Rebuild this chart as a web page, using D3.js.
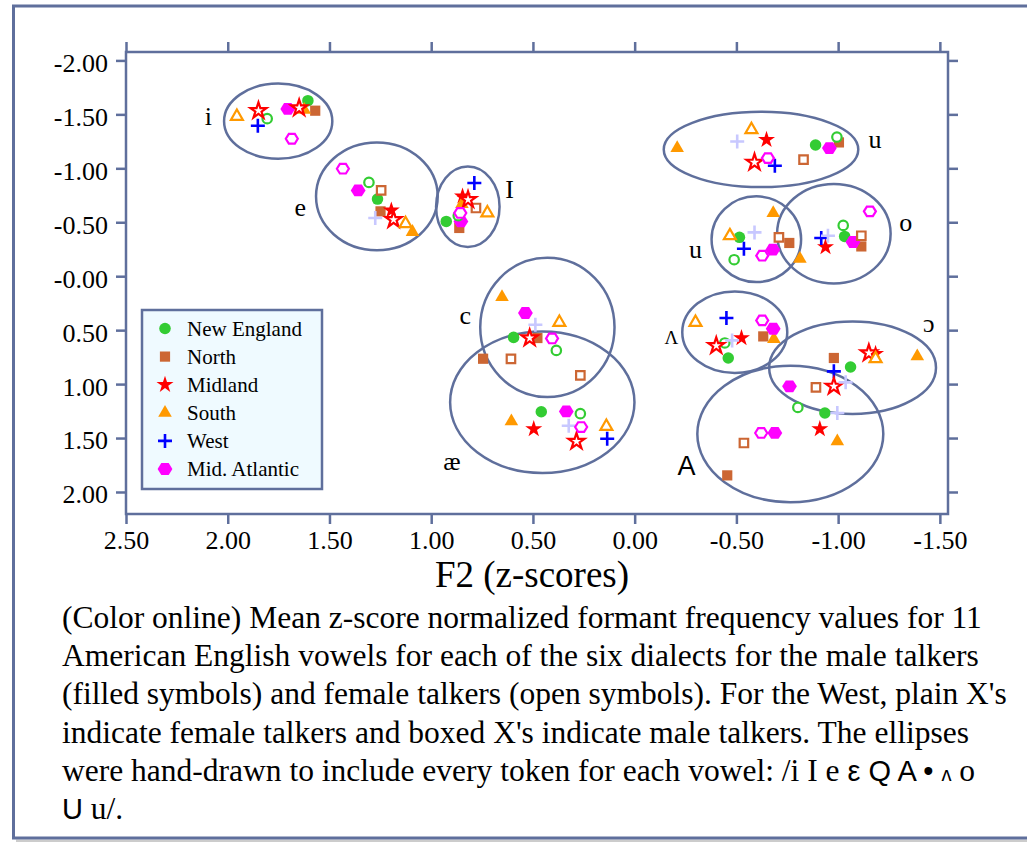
<!DOCTYPE html>
<html>
<head>
<meta charset="utf-8">
<script src="https://cdn.jsdelivr.net/npm/d3@7"></script>
<style>
    body { margin: 0; background: #ffffff; }
    svg text { font-family: "Liberation Serif", "DejaVu Serif", "Times New Roman", serif; fill: #000; }
</style>
</head>
<body>
<svg id="chart" width="1027" height="842"></svg>
<script>
////////////////////////////////////////////////////////
// data: [vowel, F2 z-score, F1 z-score]
const dialects = ['New England', 'North', 'Midland', 'South', 'West', 'Mid. Atlantic'];

const newEnglandMale = [['i', 1.606, -1.627], ['e', 1.264, -0.715], ['ɪ', 0.926, -0.508], ['u', -0.889, -1.216], ['ʊ', -0.515, -0.360], ['o', -1.032, -0.369], ['ɛ', 0.595, 0.567], ['æ', 0.459, 1.256], ['ʌ', -0.460, 0.758], ['ɔ', -1.061, 0.842], ['ɑ', -0.935, 1.268]];
const newEnglandFemale = [['i', 1.806, -1.460], ['e', 1.306, -0.869], ['ɪ', 0.867, -0.561], ['u', -0.994, -1.290], ['ʊ', -0.489, -0.153], ['o', -1.025, -0.471], ['ɛ', 0.385, 0.688], ['æ', 0.267, 1.274], ['ʌ', -0.443, 0.619], ['ɑ', -0.802, 1.216]];
const northMale = [['i', 1.570, -1.534], ['e', 1.249, -0.601], ['ɪ', 0.862, -0.447], ['u', -1.004, -1.240], ['ʊ', -0.760, -0.308], ['o', -1.114, -0.276], ['ɛ', 0.478, 0.573], ['æ', 0.745, 0.765], ['ʌ', -0.632, 0.558], ['ɔ', -0.979, 0.758], ['ɑ', -0.455, 1.846]];
const northFemale = [['e', 1.246, -0.795], ['ɪ', 0.780, -0.632], ['u', -0.830, -1.080], ['ʊ', -0.709, -0.360], ['o', -1.114, -0.375], ['ɛ', 0.608, 0.767], ['æ', 0.267, 0.919], ['ɔ', -0.891, 1.031], ['ɑ', -0.537, 1.546]];
const midlandMale = [['e', 1.196, -0.610], ['ɪ', 0.846, -0.740], ['u', -0.648, -1.265], ['o', -0.938, -0.271], ['æ', 0.496, 1.416], ['ʌ', -0.525, 0.573], ['ɔ', -1.184, 0.718], ['ɑ', -0.910, 1.416]];
const midlandFemale = [['i', 1.849, -1.534], ['i', 1.649, -1.559], ['e', 1.185, -0.524], ['ɪ', 0.819, -0.709], ['u', -0.589, -1.055], ['ɛ', 0.516, 0.573], ['æ', 0.286, 1.531], ['ʌ', -0.401, 0.644], ['ɔ', -1.151, 0.712], ['ɑ', -0.979, 1.021]];
const southMale = [['i', 1.624, -1.543], ['e', 1.092, -0.410], ['ɪ', 0.849, -0.669], ['u', -0.209, -1.188], ['ʊ', -0.681, -0.586], ['o', -0.812, -0.162], ['ɛ', 0.652, 0.193], ['æ', 0.606, 1.346], ['ʌ', -0.684, 0.582], ['ɔ', -1.389, 0.743], ['ɑ', -0.996, 1.531]];
const southFemale = [['i', 1.955, -1.481], ['e', 1.126, -0.487], ['ɪ', 0.724, -0.586], ['u', -0.574, -1.358], ['ʊ', -0.468, -0.375], ['ɛ', 0.370, 0.428], ['æ', 0.139, 1.392], ['ʌ', -0.299, 0.428], ['ɔ', -1.184, 0.765]];
const westMale = [['i', 1.852, -1.395], ['ɪ', 0.788, -0.864], ['u', -0.689, -1.024], ['ʊ', -0.537, -0.255], ['o', -0.917, -0.354], ['æ', 0.135, 1.506], ['ʌ', -0.451, 0.387], ['ɔ', -0.979, 0.882]];
const westFemale = [['e', 1.275, -0.539], ['u', -0.504, -1.249], ['ʊ', -0.589, -0.406], ['o', -0.950, -0.375], ['ɛ', 0.488, 0.450], ['æ', 0.324, 1.386], ['ʌ', -0.479, 0.595], ['ɔ', -1.037, 0.984], ['ɑ', -0.996, 1.268]];
const midAtlanticMale = [['i', 1.705, -1.550], ['e', 1.359, -0.795], ['ɪ', 0.854, -0.508], ['u', -0.957, -1.188], ['ʊ', -0.679, -0.246], ['o', -1.073, -0.317], ['ɛ', 0.537, 0.341], ['æ', 0.336, 1.253], ['ʌ', -0.681, 0.487], ['ɔ', -0.761, 1.021], ['ɑ', -0.689, 1.453]];
const midAtlanticFemale = [['i', 1.685, -1.274], ['e', 1.434, -0.996], ['ɪ', 0.857, -0.586], ['u', -0.655, -1.095], ['ʊ', -0.627, -0.190], ['o', -1.156, -0.601], ['ɛ', 0.406, 0.577], ['æ', 0.263, 1.398], ['ʌ', -0.627, 0.410], ['ɑ', -0.622, 1.453]];

const maleData = [newEnglandMale, northMale, midlandMale, southMale, westMale, midAtlanticMale];
const femaleData = [newEnglandFemale, northFemale, midlandFemale, southFemale, westFemale, midAtlanticFemale];

// hand-drawn vowel ellipses (z-score units)
const ellipseVowels = ['i', 'e', 'ɪ', 'u', 'ʊ', 'o', 'ɛ', 'æ', 'ʌ', 'ɔ', 'ɑ'];
const ellipseF2 = [1.752, 1.267, 0.820, -0.621, -0.598, -0.979, 0.429, 0.454, -0.492, -1.071, -0.765];
const ellipseF1 = [-1.437, -0.740, -0.644, -1.175, -0.343, -0.394, 0.474, 1.168, 0.519, 0.848, 1.462];
const ellipseRx = [0.266, 0.299, 0.156, 0.478, 0.220, 0.279, 0.330, 0.453, 0.258, 0.410, 0.457];
const ellipseRy = [0.348, 0.500, 0.373, 0.349, 0.397, 0.461, 0.646, 0.656, 0.378, 0.429, 0.632];

// vowel labels as printed
const labelText = ['i', 'e', 'I', 'u', 'u', 'o', 'c', 'æ', 'Λ', 'ɔ', 'A'];
const labelF2 = [2.095, 1.644, 0.615, -1.181, -0.299, -1.332, 0.833, 0.898, -0.181, -1.446, -0.255];
const labelF1 = [-1.481, -0.614, -0.811, -1.249, -0.230, -0.477, 0.387, 1.738, 0.573, 0.459, 1.754];

const xTicks = [2.5, 2, 1.5, 1, 0.5, 0, -0.5, -1, -1.5];
const xTickLabels = ['2.50', '2.00', '1.50', '1.00', '0.50', '0.00', '-0.50', '-1.00', '-1.50'];
const yTicks = [-2, -1.5, -1, -0.5, 0, 0.5, 1, 1.5, 2];
const yTickLabels = ['-2.00', '-1.50', '-1.00', '-0.50', '-0.00', '0.50', '1.00', '1.50', '2.00'];

const captionLines = [
    '(Color online) Mean z-score normalized formant frequency values for 11',
    'American English vowels for each of the six dialects for the male talkers',
    '(filled symbols) and female talkers (open symbols). For the West, plain X\'s',
    'indicate female talkers and boxed X\'s indicate male talkers. The ellipses'
];

////////////////////////////////////////////////////////
const frameColor = '#5f6f9c';
const colors = ['#33cc33', '#cc6633', '#ff0000', '#ff9900', '#0000ff', '#ff00ff'];
const westFemaleColor = '#c8c8ff';
const shapes = ['circle', 'square', 'star', 'triangle', 'plus', 'hexagon'];

const svg = d3.select('#chart');

// outer page frame
svg.append('line')
    .attr('x1', 16).attr('x2', 1027).attr('y1', 841).attr('y2', 841)
    .style('stroke', '#cccccc').style('stroke-width', 3);
svg.append('rect')
    .attr('x', 13.5).attr('y', 6).attr('width', 1040).attr('height', 832)
    .style('fill', 'none').style('stroke', frameColor).style('stroke-width', 3);

const margin = {top: 52, right: 79, bottom: 328, left: 126};
const width = 1027 - margin.left - margin.right;
const height = 842 - margin.top - margin.bottom;

const g = svg.append('g')
    .attr('transform', 'translate(' + margin.left + ',' + margin.top + ')');

const x = d3.scaleLinear().domain([2.5, -1.54]).range([0, width]);
const y = d3.scaleLinear().domain([-2.078, 2.204]).range([0, height]);

function styleAxis(sel) {
    sel.select('.domain').remove();
    sel.selectAll('line').style('stroke', frameColor).style('stroke-width', 2.5);
    sel.selectAll('text').style('font-size', '26px').style('fill', '#000')
        .style('font-family', '"Liberation Serif", serif');
}

g.append('g')
    .attr('transform', 'translate(0,' + height + ')')
    .call(d3.axisBottom(x).tickValues(xTicks).tickFormat((d, i) => xTickLabels[i])
        .tickSize(10).tickSizeOuter(0).tickPadding(7))
    .call(styleAxis);

g.append('g')
    .call(d3.axisTop(x).tickValues(xTicks).tickFormat('').tickSize(10).tickSizeOuter(0))
    .call(styleAxis);

g.append('g')
    .call(d3.axisLeft(y).tickValues(yTicks).tickFormat((d, i) => yTickLabels[i])
        .tickSize(10).tickSizeOuter(0).tickPadding(8))
    .call(styleAxis)
    .selectAll('text').attr('dy', '0.42em');

g.append('g')
    .attr('transform', 'translate(' + width + ',0)')
    .call(d3.axisRight(y).tickValues(yTicks).tickFormat('').tickSize(10).tickSizeOuter(0))
    .call(styleAxis);

g.append('rect')
    .attr('width', width).attr('height', height)
    .style('fill', 'none').style('stroke', frameColor).style('stroke-width', 2.5);

// ellipses
g.selectAll('.vowel-ellipse')
    .data(ellipseVowels)
    .enter().append('ellipse')
    .attr('class', 'vowel-ellipse')
    .attr('cx', (d, i) => x(ellipseF2[i]))
    .attr('cy', (d, i) => y(ellipseF1[i]))
    .attr('rx', (d, i) => Math.abs(x(ellipseRx[i]) - x(0)))
    .attr('ry', (d, i) => Math.abs(y(ellipseRy[i]) - y(0)))
    .style('fill', 'none')
    .style('stroke', frameColor)
    .style('stroke-width', 2.5);

// vowel labels
g.selectAll('.vowel-label')
    .data(labelText)
    .enter().append('text')
    .attr('class', 'vowel-label')
    .attr('x', (d, i) => x(labelF2[i]))
    .attr('y', (d, i) => y(labelF1[i]))
    .attr('dy', d => (d === 'I' || d === 'A' || d === 'i') ? '0.34em' : (d === 'Λ' ? '0.3em' : '0.24em'))
    .text(d => d)
    .style('text-anchor', 'middle')
    .style('font-size', d => d === 'A' ? '27px' : (d === 'Λ' ? '19px' : '26px'))
    .style('font-family', d => d === 'A' ? '"Liberation Sans", Arial, sans-serif' : '"Liberation Serif", "DejaVu Serif", serif');

////////////////////////////////////////////////////////
// marker shapes
function hexagon(r) {
    const pts = d3.range(6).map(k => [r * Math.cos(k * Math.PI / 3), r * 0.92 * Math.sin(k * Math.PI / 3)]);
    return 'M' + pts.map(p => p[0].toFixed(2) + ',' + p[1].toFixed(2)).join('L') + 'Z';
}

function markerPath(shape, open) {
    if (shape === 'circle') return d3.symbol(d3.symbolCircle, open ? 70 : 104)();
    if (shape === 'square') return d3.symbol(d3.symbolSquare, open ? 72 : 104)();
    if (shape === 'star') return d3.symbol(d3.symbolStar, open ? 80 : 90)();
    if (shape === 'triangle') return d3.symbol(d3.symbolTriangle, open ? 62 : 80)();
    if (shape === 'hexagon') return hexagon(open ? 6 : 7.4);
    return 'M-7,0H7M0,-7V7';
}

function drawMarker(sel, k, open) {
    const shape = shapes[k];
    const color = (open && shape === 'plus') ? westFemaleColor : colors[k];
    sel.append('path')
        .attr('d', markerPath(shape, open))
        .style('fill', shape === 'plus' ? 'none' : (open ? '#ffffff' : color))
        .style('stroke', shape === 'plus' || open ? color : 'none')
        .style('stroke-width', shape === 'plus' ? 2.6 : 2.2)
        .style('stroke-linejoin', 'miter');
}

// males (filled) first, then females (open)
[[maleData, false], [femaleData, true]].forEach(function (set) {
    set[0].forEach(function (rows, k) {
        g.selectAll('.pt-' + k + (set[1] ? 'f' : 'm'))
            .data(rows)
            .enter().append('g')
            .attr('class', 'pt-' + k + (set[1] ? 'f' : 'm'))
            .attr('transform', d => 'translate(' + x(d[1]) + ',' + y(d[2]) + ')')
            .each(function () { drawMarker(d3.select(this), k, set[1]); });
    });
});

////////////////////////////////////////////////////////
// legend
const legend = g.append('g').attr('transform', 'translate(16,258)');
legend.append('rect')
    .attr('width', 180).attr('height', 179)
    .style('fill', '#effaff').style('stroke', frameColor).style('stroke-width', 2.5);

const rows = legend.selectAll('.legend-row')
    .data(dialects)
    .enter().append('g')
    .attr('class', 'legend-row')
    .attr('transform', (d, i) => 'translate(23,' + (18.5 + i * 28.1) + ')');
rows.each(function (d, i) { drawMarker(d3.select(this), i, false); });
rows.append('text')
    .attr('x', 22).attr('dy', '0.34em')
    .text(d => d)
    .style('font-size', '21px');

////////////////////////////////////////////////////////
// axis title and caption
svg.append('text')
    .attr('x', 532).attr('y', 587)
    .text('F2 (z-scores)')
    .style('text-anchor', 'middle')
    .style('font-size', '37px');

const capSize = '31.5px';
const caption = svg.append('g');
caption.selectAll('.cap')
    .data(captionLines)
    .enter().append('text')
    .attr('class', 'cap')
    .attr('x', 62)
    .attr('y', (d, i) => 628 + i * 38.2)
    .text(d => d)
    .style('font-size', capSize);

const sans = '"Liberation Sans", Arial, sans-serif';
const line5 = caption.append('text').attr('x', 62).attr('y', 628 + 4 * 38.2).style('font-size', capSize);
line5.append('tspan').text('were hand-drawn to include every token for each vowel: /i I e ');
line5.append('tspan').text('ε Q A • ').style('font-family', sans).style('font-size', '29px');
line5.append('tspan').text('ʌ').style('font-family', sans).style('font-size', '20px');
line5.append('tspan').text(' o');

const line6 = caption.append('text').attr('x', 62).attr('y', 628 + 5 * 38.2).style('font-size', capSize);
line6.append('tspan').text('U').style('font-family', sans).style('font-size', '29px');
line6.append('tspan').text(' u/.');
</script>
</body>
</html>
